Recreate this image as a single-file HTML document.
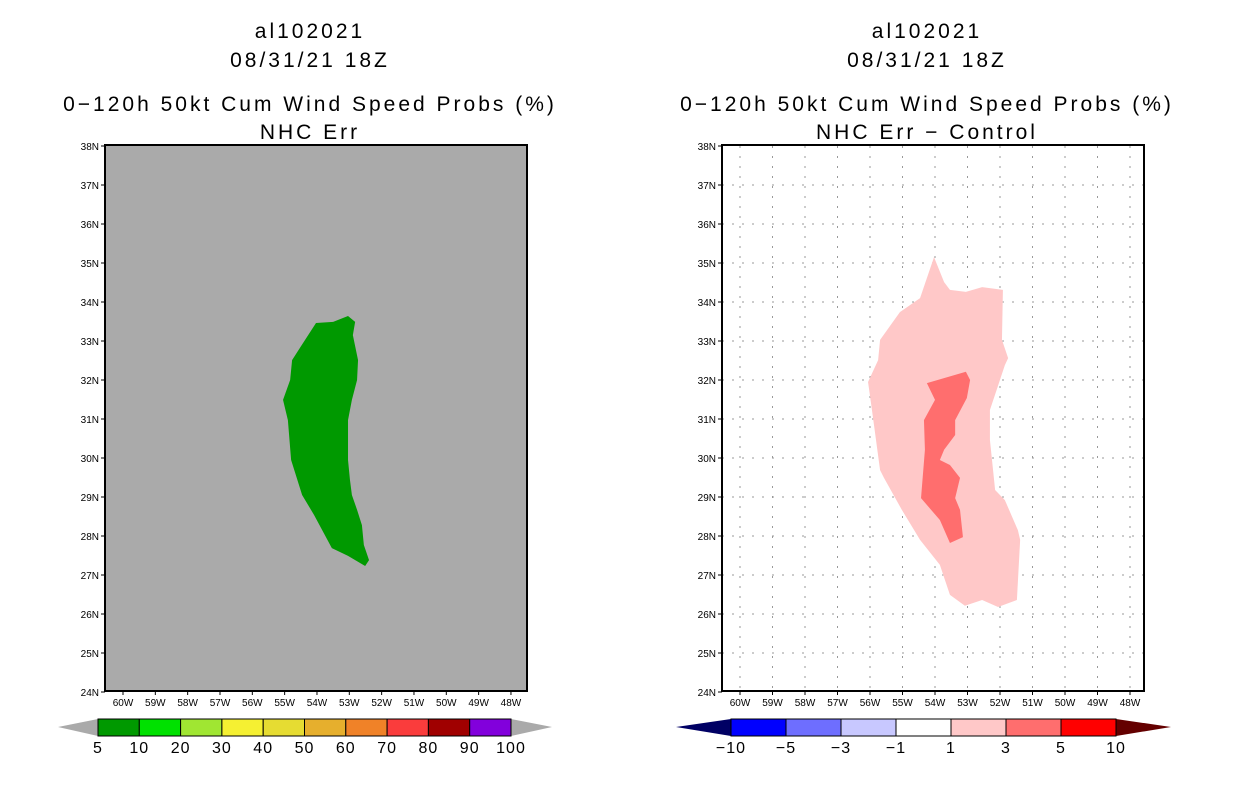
<!DOCTYPE html>
<html><head><meta charset="utf-8"><style>
body{margin:0;background:#fff;width:1236px;height:800px;overflow:hidden}
svg text{font-family:"Liberation Sans",sans-serif}
.tt{letter-spacing:3px}
</style></head><body>
<svg id="s" width="1236" height="800" xmlns="http://www.w3.org/2000/svg">
<g font-size="21" text-anchor="middle" class="tt">
<text x="310" y="38">al102021</text><text x="310" y="67">08/31/21 18Z</text>
<text x="310" y="111">0−120h 50kt Cum Wind Speed Probs (%)</text><text x="310" y="139">NHC Err</text></g>
<g font-size="21" text-anchor="middle" class="tt">
<text x="927" y="38">al102021</text><text x="927" y="67">08/31/21 18Z</text>
<text x="927" y="111">0−120h 50kt Cum Wind Speed Probs (%)</text><text x="927" y="139">NHC Err − Control</text></g>
</svg>
<script>
const lonTicks=[60,59,58,57,56,55,54,53,52,51,50,49,48];
const latTicks=[38,37,36,35,34,33,32,31,30,29,28,27,26,25,24];
const greenLon=[54.03,53.5,53.04,52.82,52.89,52.73,52.76,52.92,53.04,53.04,52.98,52.92,52.76,52.61,52.55,52.39,52.51,53.04,53.54,54.09,54.46,54.8,54.9,55.05,54.83,54.77,54.53];
const greenLat=[33.46,33.49,33.64,33.49,33.15,32.51,32,31.49,30.97,29.95,29.44,29.05,28.67,28.28,27.77,27.38,27.23,27.49,27.69,28.54,29.05,29.95,30.97,31.49,32,32.51,32.82];
const diffLightLon=[54.03,54.46,55.08,55.69,55.75,56.06,55.94,55.69,55.57,55.02,54.46,53.85,53.54,53.08,52.55,52.06,51.48,51.38,51.45,51.85,52.15,52.31,52.31,51.85,51.75,51.94,51.91,52.55,53.05,53.54,53.72];
const diffLightLat=[35.15,34.1,33.74,33.03,32.51,31.95,31.23,29.69,29.49,28.67,27.9,27.26,26.49,26.21,26.36,26.18,26.36,27.9,28.15,28.92,29.18,30.46,31.23,32.38,32.56,33.03,34.31,34.38,34.26,34.31,34.51];
const diffDarkLon=[54.25,53.05,52.92,53.02,53.38,53.38,53.72,53.85,53.54,53.23,53.38,53.23,53.14,53.54,53.85,54.43,54.31,54.34,54.0];
const diffDarkLat=[31.92,32.21,32,31.54,30.97,30.59,30.21,29.95,29.82,29.49,28.97,28.67,27.97,27.82,28.41,28.97,30.21,30.97,31.49];
const probLabels=["5","10","20","30","40","50","60","70","80","90","100"];
const probColors=["#009900","#00e100","#a0e632","#f5f032","#e6dc32","#e6af2d","#f08228","#fa3c3c","#a00000","#8200dc"];
const diffLabels=["−10","−5","−3","−1","1","3","5","10"];
const diffColors=["#0000ff","#6e6eff","#c8c8ff","#ffffff","#ffc8c8","#ff6e6e","#ff0000"];
const NS="http://www.w3.org/2000/svg",S=document.getElementById('s');
function mk(t,a,p){const e=document.createElementNS(NS,t);for(const k in a)e.setAttribute(k,a[k]);(p||S).appendChild(e);return e;}
function panel(x0,lon60x,dx,bg,grid,name){
 const X=l=>lon60x+(60-l)*dx, Y=l=>146+(38-l)*39;
 const g=mk('g',{});
 
 
 mk('rect',{x:x0,y:145,width:422,height:546,fill:bg},g);
 if(grid){
  lonTicks.forEach(l=>{const ln=mk('line',{x1:X(l),x2:X(l),y1:146,y2:690,stroke:'#999','stroke-dasharray':'2,8'},g);
   });
  latTicks.slice(1,-1).forEach(l=>{const ln=mk('line',{x1:x0,x2:x0+422,y1:Y(l),y2:Y(l),stroke:'#999','stroke-dasharray':'2,8'},g);
   });
 }
 return {g,X,Y};
}
function poly(p,lons,lats,fill,name){
 const e=mk('polygon',{points:lons.map((l,i)=>p.X(l)+','+p.Y(lats[i])).join(' '),fill},p.g);
 
 
}
function axes(p,x0){
 mk('rect',{x:x0,y:145,width:422,height:546,fill:'none',stroke:'#000','stroke-width':2},p.g);
 lonTicks.forEach(l=>{mk('line',{x1:p.X(l),x2:p.X(l),y1:691,y2:695,stroke:'#000'},p.g);
  const t=mk('text',{x:p.X(l),y:706,'font-size':10,'text-anchor':'middle'},p.g);t.textContent=l+'W';
  });
 latTicks.forEach(l=>{mk('line',{x1:x0-4,x2:x0,y1:p.Y(l),y2:p.Y(l),stroke:'#000'},p.g);
  const t=mk('text',{x:x0-6,y:p.Y(l)+4,'font-size':10,'text-anchor':'end'},p.g);t.textContent=l+'N';
  });
}
const L=panel(105,123,32.33,'#aaaaaa',false,'left-map');
poly(L,greenLon,greenLat,'#009900','prob-contour-5-10');axes(L,105);
const R=panel(722,740,32.5,'#ffffff',true,'right-map');
poly(R,diffLightLon,diffLightLat,'#ffc8c8','diff-contour-1-3');
poly(R,diffDarkLon,diffDarkLat,'#ff6e6e','diff-contour-3-5');axes(R,722);
function cbar(x0,w,colors,labels,lc,rc,lx,rx,name){
 const g=mk('g',{});
 
 
 const n=colors.length,x1=x0+w*n;
 mk('polygon',{points:`${lx},727 ${x0},719 ${x0},736`,fill:lc},g);
 mk('polygon',{points:`${x1},719 ${rx},727 ${x1},736`,fill:rc},g);
 colors.forEach((c,i)=>{const r=mk('rect',{x:x0+i*w,y:719,width:w,height:17,fill:c,stroke:'#000'},g);
  });
 labels.forEach((t,i)=>{const e=mk('text',{x:x0+i*w,y:753,'font-size':16,'text-anchor':'middle','letter-spacing':'1px'},g);e.textContent=t;
  });
}
cbar(98,41.3,probColors,probLabels,'#aaaaaa','#aaaaaa',58,552,'prob-colorbar');
cbar(731,55,diffColors,diffLabels,'#000064','#640000',676,1171,'diff-colorbar');
</script>
</body></html>
